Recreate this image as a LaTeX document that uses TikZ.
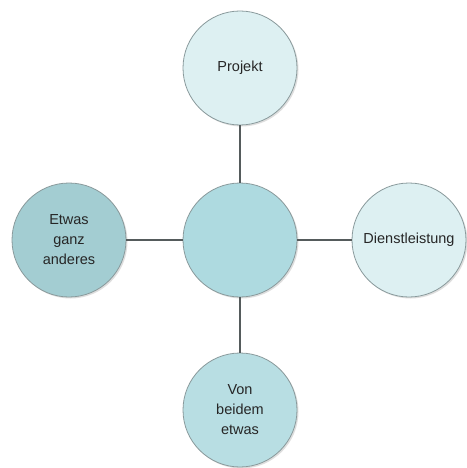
\documentclass[tikz,border=0pt]{standalone}
\usepackage{fontspec}
\setmainfont{Liberation Sans}
\usetikzlibrary{shadows}
\definecolor{light}{HTML}{DDF0F2}
\definecolor{mid}{HTML}{AEDAE0}
\definecolor{dark}{HTML}{A3CDD2}
\definecolor{bottomc}{HTML}{B8DEE3}
\definecolor{rim}{HTML}{8A9A9C}
\definecolor{conn}{HTML}{555B5C}
\tikzset{
  bubble/.style={circle, draw=rim, line width=0.8pt, minimum size=114pt, inner sep=0pt,
    align=center, font=\fontsize{14.5}{20}\selectfont, text=black!85,
    drop shadow={shadow xshift=1.5pt, shadow yshift=-1.5pt, fill=black!25, opacity=0.5}},
  link/.style={draw=conn, line width=1.6pt}
}
\begin{document}
\begin{tikzpicture}[x=1pt,y=-1pt]
\useasboundingbox[fill=white] (0,0) rectangle (466,468);
\node[bubble, fill=mid] (c) at (240,240) {};
\node[bubble, fill=light] (t) at (240,68) {Projekt};
\node[bubble, fill=dark] (l) at (69,240) {Etwas\\ganz\\anderes};
\node[bubble, fill=light] (r) at (409,240) {Dienstleistung};
\node[bubble, fill=bottomc] (b) at (240,410) {Von\\beidem\\etwas};
\draw[link] (c) -- (t);
\draw[link] (c) -- (l);
\draw[link] (c) -- (r);
\draw[link] (c) -- (b);
\end{tikzpicture}
\end{document}
